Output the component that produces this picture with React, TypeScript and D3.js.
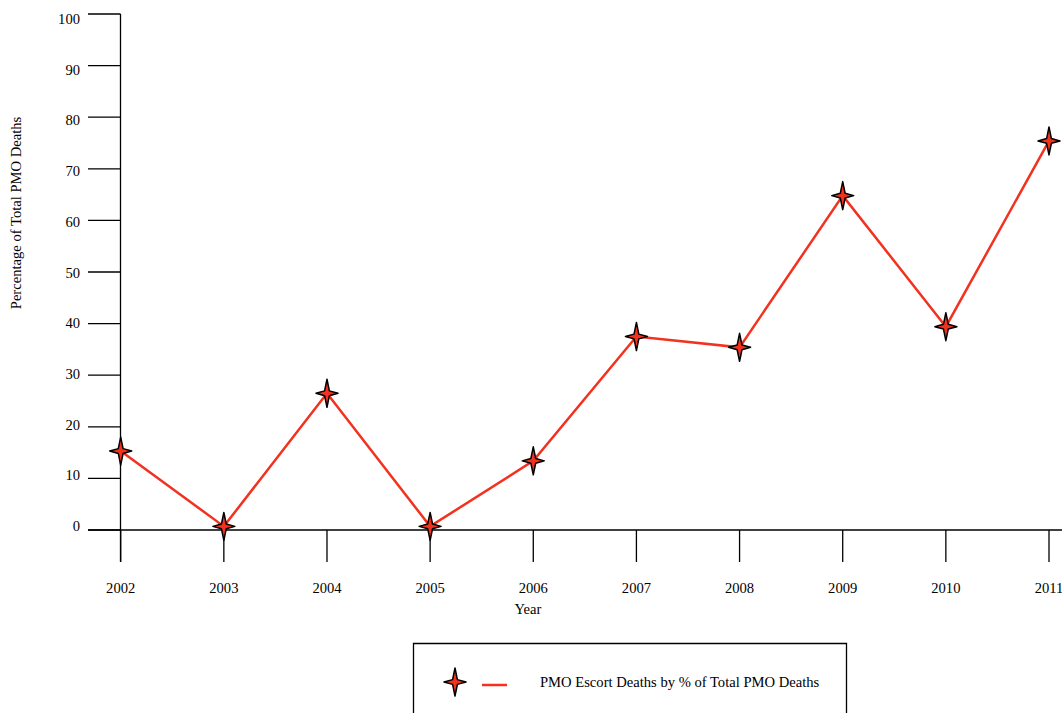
import React from "react";
import * as d3 from "d3";

const years = ["2002", "2003", "2004", "2005", "2006", "2007", "2008", "2009", "2010", "2011"];
const escortPct = [15.3, 0.7, 26.5, 0.7, 13.4, 37.5, 35.4, 64.8, 39.4, 75.4];
const yTicks = [0, 10, 20, 30, 40, 50, 60, 70, 80, 90, 100];
const seriesName = "PMO Escort Deaths by % of Total PMO Deaths";
const xTitle = "Year";
const yTitle = "Percentage of Total PMO Deaths";

const W = 1062;
const H = 713;
const RED = "#f2321f";
const FONT = "'Liberation Serif', 'Times New Roman', serif";
const FS = 14.6;

function starPath(cx: number, cy: number) {
  const v = 14, h = 11, c = 2.4;
  const pts: [number, number][] = [
    [0, -v], [c, -c], [h, 0], [c, c], [0, v], [-c, c], [-h, 0], [-c, -c],
  ];
  return "M" + pts.map(([x, y]) => `${cx + x},${cy + y}`).join("L") + "Z";
}

export default function App() {
  const x = d3.scalePoint<string>().domain(years).range([120.7, 1049]);
  const y = d3.scaleLinear().domain([0, 100]).range([530, 14]);
  const yLab = d3.scaleLinear().domain([0, 100]).range([531, 24]);
  const line = d3
    .line<number>()
    .x((_, i) => x(years[i]) as number)
    .y((d) => y(d));

  return (
    <svg
      width={W}
      height={H}
      style={{ position: "absolute", left: 0, top: 0, background: "#fff" }}
      fontFamily={FONT}
    >
      {/* y axis */}
      <line x1={120.5} x2={120.5} y1={14} y2={562} stroke="#000" strokeWidth={1.3} />
      {yTicks.map((t) => (
        <g key={t}>
          <line x1={88} x2={120.5} y1={y(t)} y2={y(t)} stroke="#000" strokeWidth={1.3} />
          <text x={80} y={yLab(t)} textAnchor="end" fontSize={FS}>
            {t}
          </text>
        </g>
      ))}
      {/* x axis */}
      <line x1={88} x2={W} y1={530} y2={530} stroke="#000" strokeWidth={1.3} />
      {years.map((yr) => (
        <g key={yr}>
          <line x1={x(yr)} x2={x(yr)} y1={530} y2={562} stroke="#000" strokeWidth={1.3} />
          <text x={x(yr)} y={593} textAnchor="middle" fontSize={FS}>
            {yr}
          </text>
        </g>
      ))}
      <text x={528} y={614} textAnchor="middle" fontSize={FS}>
        {xTitle}
      </text>
      <text
        transform={`translate(21,213) rotate(-90)`}
        textAnchor="middle"
        fontSize={FS}
      >
        {yTitle}
      </text>
      {/* series */}
      <path d={line(escortPct) || ""} fill="none" stroke={RED} strokeWidth={2.5} />
      {escortPct.map((v, i) => (
        <path
          key={i}
          d={starPath(x(years[i]) as number, y(v))}
          fill={RED}
          stroke="#000"
          strokeWidth={1.5}
          strokeLinejoin="round"
        />
      ))}
      {/* legend */}
      <path d={`M413.5,${H + 2}V643.5H846.5V${H + 2}`} fill="none" stroke="#000" strokeWidth={1.3} />
      <path d={starPath(455, 682)} fill={RED} stroke="#000" strokeWidth={1.5} strokeLinejoin="round" />
      <line x1={482} x2={507} y1={685} y2={685} stroke={RED} strokeWidth={2.5} />
      <text x={540} y={687} fontSize={FS}>
        {seriesName}
      </text>
    </svg>
  );
}
